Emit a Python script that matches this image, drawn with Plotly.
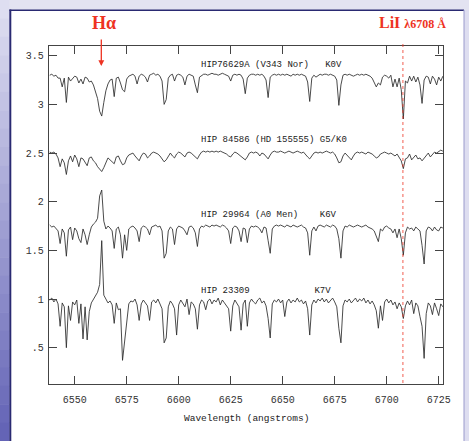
import plotly.graph_objects as go

# ---------------- data ----------------
wavelength = list(range(6538, 6728))  # 1 Angstrom sampling

flux_hip76629a = [
    3.30, 3.31, 3.29, 3.30, 3.27, 3.27, 3.18, 3.27, 3.02, 3.28,
    3.24, 3.27, 3.29, 3.28, 3.22, 3.26, 3.21, 3.28, 3.27, 3.23,
    3.24, 3.20, 3.14, 3.06, 2.93, 2.88, 3.02, 3.14, 3.21, 3.25,
    3.26, 3.08, 3.27, 3.28, 3.22, 3.15, 3.13, 3.26, 3.29, 3.30,
    3.31, 3.29, 3.21, 3.29, 3.31, 3.30, 3.28, 3.23, 3.30, 3.31,
    3.32, 3.30, 3.31, 3.29, 3.24, 3.00, 3.05, 3.27, 3.30, 3.31,
    3.24, 3.30, 3.31, 3.30, 3.28, 3.20, 3.29, 3.31, 3.30, 3.29,
    3.20, 3.12, 3.28, 3.30, 3.31, 3.31, 3.30, 3.31, 3.32, 3.31,
    3.31, 3.30, 3.31, 3.32, 3.31, 3.30, 3.29, 3.24, 3.30, 3.31,
    3.30, 3.31, 3.30, 3.26, 3.11, 3.27, 3.30, 3.31, 3.31, 3.30,
    3.31, 3.30, 3.31, 3.29, 3.25, 3.07, 3.28, 3.30, 3.31, 3.30,
    3.31, 3.30, 3.31, 3.30, 3.31, 3.30, 3.29, 3.31, 3.30, 3.31,
    3.30, 3.31, 3.30, 3.29, 3.23, 3.03, 3.27, 3.30, 3.28, 3.30,
    3.31, 3.30, 3.31, 3.31, 3.30, 3.31, 3.30, 3.29, 3.25, 2.99,
    3.20, 3.30, 3.31, 3.30, 3.31, 3.30, 3.29, 3.30, 3.31, 3.30,
    3.31, 3.30, 3.31, 3.30, 3.29, 3.27, 3.22, 3.18, 3.22, 3.20,
    3.28, 3.30, 3.29, 3.27, 3.30, 3.18, 3.26, 3.18, 3.27, 3.15,
    2.85, 3.24, 3.22, 3.29, 3.24, 3.29, 3.23, 3.28, 3.20, 3.01,
    3.25, 3.29, 3.28, 3.21, 3.29, 3.26, 3.20, 3.28, 3.24, 3.29,
]

flux_hip84586 = [
    2.51, 2.50, 2.51, 2.49, 2.45, 2.36, 2.44, 2.40, 2.28, 2.42,
    2.47, 2.41, 2.48, 2.44, 2.36, 2.45, 2.44, 2.40, 2.37, 2.45,
    2.46, 2.42, 2.40, 2.36, 2.33, 2.31, 2.35, 2.40, 2.45, 2.43,
    2.41, 2.39, 2.46, 2.47, 2.42, 2.38, 2.39, 2.45, 2.48, 2.49,
    2.50, 2.47, 2.44, 2.42, 2.47, 2.50, 2.49, 2.45, 2.47, 2.50,
    2.51, 2.50, 2.49, 2.47, 2.44, 2.41, 2.43, 2.47, 2.50, 2.47,
    2.45, 2.49, 2.51, 2.50, 2.48, 2.46, 2.50, 2.51, 2.50, 2.48,
    2.45, 2.44, 2.48, 2.51, 2.52, 2.51, 2.52, 2.51, 2.52, 2.51,
    2.52, 2.51, 2.52, 2.51, 2.50, 2.49, 2.47, 2.46, 2.49, 2.51,
    2.50, 2.48, 2.46, 2.44, 2.43, 2.46, 2.50, 2.51, 2.50, 2.51,
    2.50, 2.47, 2.50, 2.49, 2.46, 2.44, 2.48, 2.51, 2.52, 2.51,
    2.51, 2.52, 2.51, 2.50, 2.51, 2.52, 2.51, 2.50, 2.51, 2.52,
    2.51, 2.50, 2.51, 2.48, 2.46, 2.44, 2.47, 2.50, 2.51, 2.50,
    2.51, 2.50, 2.51, 2.52, 2.51, 2.50, 2.51, 2.49, 2.45, 2.40,
    2.41, 2.47, 2.50, 2.48, 2.45, 2.43, 2.47, 2.50, 2.51, 2.50,
    2.51, 2.50, 2.49, 2.51, 2.50, 2.49, 2.47, 2.45, 2.46, 2.49,
    2.50, 2.51, 2.50, 2.49, 2.50, 2.48, 2.47, 2.49, 2.46, 2.42,
    2.34, 2.44, 2.45, 2.49, 2.43, 2.46, 2.48, 2.44, 2.45, 2.42,
    2.45, 2.48, 2.50, 2.46, 2.49, 2.51, 2.50, 2.52, 2.53, 2.52,
]

flux_hip29964 = [
    1.76, 1.74, 1.75, 1.73, 1.70, 1.57, 1.72, 1.68, 1.44, 1.71,
    1.74, 1.61, 1.73, 1.70, 1.62, 1.58, 1.72, 1.66, 1.56, 1.66,
    1.74, 1.77, 1.79, 1.83, 2.06, 2.12, 1.80, 1.72, 1.75, 1.73,
    1.70, 1.52, 1.72, 1.74, 1.66, 1.42, 1.66, 1.50, 1.72, 1.74,
    1.75, 1.73, 1.70, 1.59, 1.73, 1.75, 1.74, 1.72, 1.66, 1.74,
    1.75, 1.76, 1.74, 1.75, 1.70, 1.42, 1.47, 1.70, 1.74, 1.72,
    1.56, 1.72, 1.75, 1.74, 1.73, 1.70, 1.66, 1.74, 1.75, 1.73,
    1.68, 1.54, 1.72, 1.75, 1.74, 1.76, 1.75, 1.74, 1.76, 1.75,
    1.76, 1.75, 1.74, 1.76, 1.75, 1.73, 1.70, 1.57, 1.73, 1.75,
    1.74, 1.70, 1.59, 1.73, 1.72, 1.58, 1.72, 1.75, 1.74, 1.75,
    1.74, 1.72, 1.68, 1.74, 1.73, 1.60, 1.47, 1.72, 1.75, 1.76,
    1.75, 1.76, 1.75, 1.74, 1.76, 1.75, 1.74, 1.76, 1.75, 1.74,
    1.75, 1.76, 1.74, 1.73, 1.68, 1.45, 1.70, 1.74, 1.70, 1.75,
    1.76, 1.75, 1.74, 1.76, 1.75, 1.74, 1.76, 1.75, 1.72, 1.62,
    1.42, 1.70, 1.75, 1.74, 1.76, 1.75, 1.74, 1.75, 1.76, 1.75,
    1.74, 1.75, 1.76, 1.74, 1.73, 1.72, 1.70, 1.65, 1.59, 1.72,
    1.70, 1.74, 1.75, 1.73, 1.72, 1.68, 1.72, 1.63, 1.72, 1.62,
    1.45, 1.68, 1.74, 1.72, 1.73, 1.70, 1.74, 1.72, 1.70, 1.55,
    1.36, 1.70, 1.74, 1.73, 1.70, 1.74, 1.71, 1.70, 1.74, 1.73,
]

flux_hip23309 = [
    0.99, 1.01, 0.97, 1.00, 0.95, 0.72, 0.96, 0.92, 0.50, 0.93,
    0.78, 0.97, 0.94, 0.99, 0.75, 0.95, 0.59, 0.92, 0.58, 0.87,
    0.96, 1.00, 1.03, 1.07, 1.15, 1.60, 1.04, 1.00, 0.96, 0.98,
    0.94, 0.75, 0.96, 0.89, 0.90, 0.37, 0.56, 0.80, 0.95, 0.98,
    0.97, 1.00, 0.94, 0.78, 0.95, 0.99, 0.96, 0.93, 0.78, 0.97,
    0.99, 0.96, 1.00, 0.95, 0.90, 0.55, 0.60, 0.92, 0.98, 0.95,
    0.90, 0.63, 0.94, 0.99, 0.96, 0.92, 1.00, 0.84, 0.97, 0.95,
    0.90, 0.69, 0.94, 0.99, 0.97, 0.89, 0.98, 1.00, 0.95, 0.99,
    0.97, 1.01, 0.94, 0.99, 0.96, 0.93, 0.90, 0.67, 0.93, 0.99,
    0.96, 0.92, 0.68, 0.95, 0.99, 0.72, 0.96, 1.00, 0.97, 0.95,
    0.99, 1.01, 0.96, 0.98, 0.93, 0.80, 0.60, 0.95, 0.99, 0.97,
    1.00, 0.96, 0.99, 0.82, 0.97, 1.00, 0.96, 0.99, 0.97, 1.01,
    0.97, 0.99, 0.95, 0.98, 0.90, 0.63, 0.94, 0.99, 0.96, 1.00,
    0.98, 1.01, 0.97, 1.00, 0.96, 0.99, 1.01, 0.97, 0.92, 0.70,
    0.55, 0.93, 0.99, 0.97, 1.00, 0.96, 0.99, 1.01, 0.97, 1.00,
    0.98, 1.01, 0.96, 0.99, 0.95, 0.98, 0.94, 0.88, 0.70, 0.93,
    0.78, 0.97, 1.00, 0.96, 0.99, 0.94, 0.97, 0.90, 0.96, 0.92,
    0.80, 0.93, 0.98, 0.94, 0.99, 0.85, 0.96, 0.93, 0.82, 0.72,
    0.39, 0.85, 0.96, 0.93, 0.84, 0.96, 0.90, 0.83, 0.95, 0.92,
]

star_labels = [
    "HIP76629A (V343 Nor)   K0V",
    "HIP 84586 (HD 155555) G5/K0",
    "HIP 29964 (A0 Men)    K6V",
    "HIP 23309            K7V",
]
spectra = [flux_hip76629a, flux_hip84586, flux_hip29964, flux_hip23309]

x_tick_vals = [6550, 6575, 6600, 6625, 6650, 6675, 6700, 6725]
y_tick_vals = [0.5, 1, 1.5, 2, 2.5, 3, 3.5]
y_tick_text = [".5", "1", "1.5", "2", "2.5", "3", "3.5"]

H_ALPHA = 6562.8
LI_I = 6707.8

# ---------------- style / layout constants ----------------
W, H = 469, 441
ML, MR, MT, MB = 49, 26, 46, 57
PW, PH = W - ML - MR, H - MT - MB
X_RANGE = [6537.65, 6727.07]
Y_RANGE = [0.127, 3.600]
label_x = 6610.0
label_y = [3.405, 2.634, 1.864, 1.086]
RED = "#ee3322"
INK = "#2a2a2a"
MONO = "Liberation Mono, Courier New, monospace"
SERIF = "Liberation Serif, Times New Roman, serif"


def px_to_paper_x(px):
    return (px - ML) / PW


def py_to_paper_y(py):
    return 1 - (py - MT) / PH


fig = go.Figure()
for flux in spectra:
    fig.add_trace(go.Scatter(x=wavelength, y=flux, mode="lines",
                             line=dict(color=INK, width=0.85),
                             hoverinfo="skip", showlegend=False))

shapes = []
# top lavender strip
shapes.append(dict(type="rect", xref="paper", yref="paper", layer="below",
                   x0=px_to_paper_x(0), x1=px_to_paper_x(W),
                   y0=py_to_paper_y(10), y1=py_to_paper_y(0),
                   fillcolor="#e3e3f1", line=dict(width=0)))
# right strip
shapes.append(dict(type="rect", xref="paper", yref="paper", layer="below",
                   x0=px_to_paper_x(464), x1=px_to_paper_x(W),
                   y0=py_to_paper_y(H), y1=py_to_paper_y(10),
                   fillcolor="#dedef0", line=dict(width=0)))
# left gradient strip
nb = 24
c0, c1 = (222, 222, 241), (100, 100, 182)
for i in range(nb):
    t = i / (nb - 1)
    col = "rgb(%d,%d,%d)" % tuple(round(a + (b - a) * t) for a, b in zip(c0, c1))
    y_top = H * i / nb
    y_bot = H * (i + 1) / nb + 0.5
    shapes.append(dict(type="rect", xref="paper", yref="paper", layer="below",
                       x0=px_to_paper_x(0), x1=px_to_paper_x(9.5),
                       y0=py_to_paper_y(y_bot), y1=py_to_paper_y(y_top),
                       fillcolor=col, line=dict(width=0)))
# navy border of the panel
shapes.append(dict(type="line", xref="paper", yref="paper",
                   x0=px_to_paper_x(10.3), x1=px_to_paper_x(10.3),
                   y0=py_to_paper_y(H), y1=py_to_paper_y(9.5),
                   line=dict(color="#2a2a72", width=2)))
shapes.append(dict(type="line", xref="paper", yref="paper",
                   x0=px_to_paper_x(9.5), x1=px_to_paper_x(464),
                   y0=py_to_paper_y(10.3), y1=py_to_paper_y(10.3),
                   line=dict(color="#2a2a72", width=1.6)))
shapes.append(dict(type="line", xref="paper", yref="paper",
                   x0=px_to_paper_x(464), x1=px_to_paper_x(464),
                   y0=py_to_paper_y(H), y1=py_to_paper_y(10),
                   line=dict(color="#9a9acc", width=1)))
# Li I dotted marker
li_xp = (LI_I - X_RANGE[0]) / (X_RANGE[1] - X_RANGE[0])
shapes.append(dict(type="line", xref="paper", yref="paper",
                   x0=li_xp, x1=li_xp, y0=py_to_paper_y(383), y1=py_to_paper_y(42),
                   line=dict(color=RED, width=0.8, dash="dot")))

annotations = []
for txt, ly in zip(star_labels, label_y):
    annotations.append(dict(x=label_x, y=ly, xref="x", yref="y", showarrow=False,
                            xanchor="left", yanchor="middle",
                            text=txt.replace(" ", "\u00a0"),
                            font=dict(family=MONO, size=9, color="#222")))
# H-alpha arrow
annotations.append(dict(x=H_ALPHA, y=Y_RANGE[1] - 20 / (PH / (Y_RANGE[1] - Y_RANGE[0])),
                        xref="x", yref="y", text="", showarrow=True,
                        ax=0, ay=-28, arrowhead=2, arrowsize=0.9, arrowwidth=1.3,
                        arrowcolor=RED))
annotations.append(dict(x=px_to_paper_x(104), y=py_to_paper_y(23), xref="paper", yref="paper",
                        showarrow=False, xanchor="center", yanchor="middle",
                        text="<b>Hα</b>", font=dict(family=SERIF, size=18, color=RED)))
annotations.append(dict(x=px_to_paper_x(377), y=py_to_paper_y(23), xref="paper", yref="paper",
                        showarrow=False, xanchor="left", yanchor="middle",
                        text="<b>LiI</b> <b><span style='font-size:12px'>λ6708 Å</span></b>",
                        font=dict(family=SERIF, size=16, color=RED)))
annotations.append(dict(x=0.5, y=py_to_paper_y(418), xref="paper", yref="paper",
                        showarrow=False, xanchor="center", yanchor="middle",
                        text="Wavelength (angstroms)",
                        font=dict(family=MONO, size=9.5, color="#222")))

axis_common = dict(showline=True, linecolor="#444", linewidth=1.3, mirror="allticks",
                   ticks="inside", ticklen=8, tickwidth=1.1, tickcolor="#444",
                   showgrid=False, zeroline=False,
                   tickfont=dict(family=MONO, size=10, color="#333"))

fig.update_layout(
    width=W, height=H,
    margin=dict(l=ML, r=MR, t=MT, b=MB, pad=0),
    paper_bgcolor="white", plot_bgcolor="white",
    xaxis=dict(range=X_RANGE, tickvals=x_tick_vals, ticktext=[str(v) for v in x_tick_vals],
               ticklabelstandoff=6, **axis_common),
    yaxis=dict(range=Y_RANGE, tickvals=y_tick_vals, ticktext=y_tick_text,
               ticklabelstandoff=2, **axis_common),
    shapes=shapes, annotations=annotations, showlegend=False,
)

fig.write_html("out.html")
